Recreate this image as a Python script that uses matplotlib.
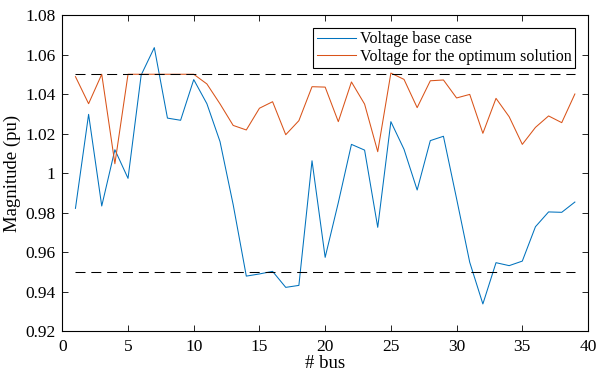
import matplotlib
matplotlib.use("Agg")
import matplotlib.pyplot as plt
import numpy as np

buses = list(range(1, 40))
v_base = [0.9821, 1.0297, 0.9833, 1.0118, 0.9973, 1.0496, 1.0635, 1.0278, 1.0267, 1.0473,
          1.0351, 1.0159, 0.9840, 0.9478, 0.9489, 0.9502, 0.9421, 0.9431, 1.0062, 0.9573,
          0.9850, 1.0145, 1.0116, 0.9725, 1.0260, 1.0120, 0.9914, 1.0164, 1.0186, 0.9870,
          0.9548, 0.9337, 0.9546, 0.9531, 0.9554, 0.9728, 0.9803, 0.9801, 0.9853]
v_opt = [1.0488, 1.0351, 1.0500, 1.0047, 1.0500, 1.0500, 1.0500, 1.0500, 1.0500, 1.0500,
         1.0451, 1.0350, 1.0241, 1.0218, 1.0328, 1.0361, 1.0194, 1.0265, 1.0437, 1.0435,
         1.0260, 1.0461, 1.0349, 1.0108, 1.0506, 1.0474, 1.0331, 1.0467, 1.0471, 1.0380,
         1.0398, 1.0201, 1.0378, 1.0285, 1.0145, 1.0231, 1.0289, 1.0255, 1.0400]
v_max = 1.05
v_min = 0.95
labels = ["Voltage base case", "Voltage for the optimum solution"]
xticks = [0, 5, 10, 15, 20, 25, 30, 35, 40]
yticks = [0.92, 0.94, 0.96, 0.98, 1.0, 1.02, 1.04, 1.06, 1.08]
ytick_labels = ["0.92", "0.94", "0.96", "0.98", "1", "1.02", "1.04", "1.06", "1.08"]

plt.rcParams['font.family'] = ['Liberation Serif', 'DejaVu Serif']
plt.rcParams['font.size'] = 12

fig = plt.figure(figsize=(5.98, 3.79), dpi=100)
ax = fig.add_axes([0.1042, 0.1266, 0.8791, 0.8338])

ax.plot(buses, v_base, color='#0072BD', lw=0.75, label=labels[0])
ax.plot(buses, v_opt, color='#D95319', lw=0.75, label=labels[1])
ax.plot([buses[0], buses[-1]], [v_max, v_max], color='black', lw=0.75, dashes=(9.6, 5.6))
ax.plot([buses[0], buses[-1]], [v_min, v_min], color='black', lw=0.75, dashes=(9.6, 5.6))

ax.set_xlim(0, 40)
ax.set_ylim(0.92, 1.08)
ax.set_xticks(xticks)
ax.set_yticks(yticks)
ax.set_yticklabels(ytick_labels)
ax.tick_params(direction='in', top=True, right=True, length=4, width=0.6, labelsize=12.5)
ax.tick_params(axis='x', pad=6)
ax.tick_params(axis='y', pad=5)
for s in ax.spines.values():
    s.set_linewidth(0.8)
ax.set_xlabel('# bus', fontsize=13.5, labelpad=0)
ax.set_ylabel('Magnitude (pu)', fontsize=13.5, labelpad=3)

leg = ax.legend(loc='upper right', bbox_to_anchor=(0.976, 0.959), fancybox=False,
                edgecolor='black', framealpha=1, fontsize=11.5, handlelength=2.5,
                handletextpad=0.25, borderpad=0.2, labelspacing=0.12, borderaxespad=0)
leg.get_frame().set_linewidth(0.8)

fig.savefig('out.png', dpi=100)
